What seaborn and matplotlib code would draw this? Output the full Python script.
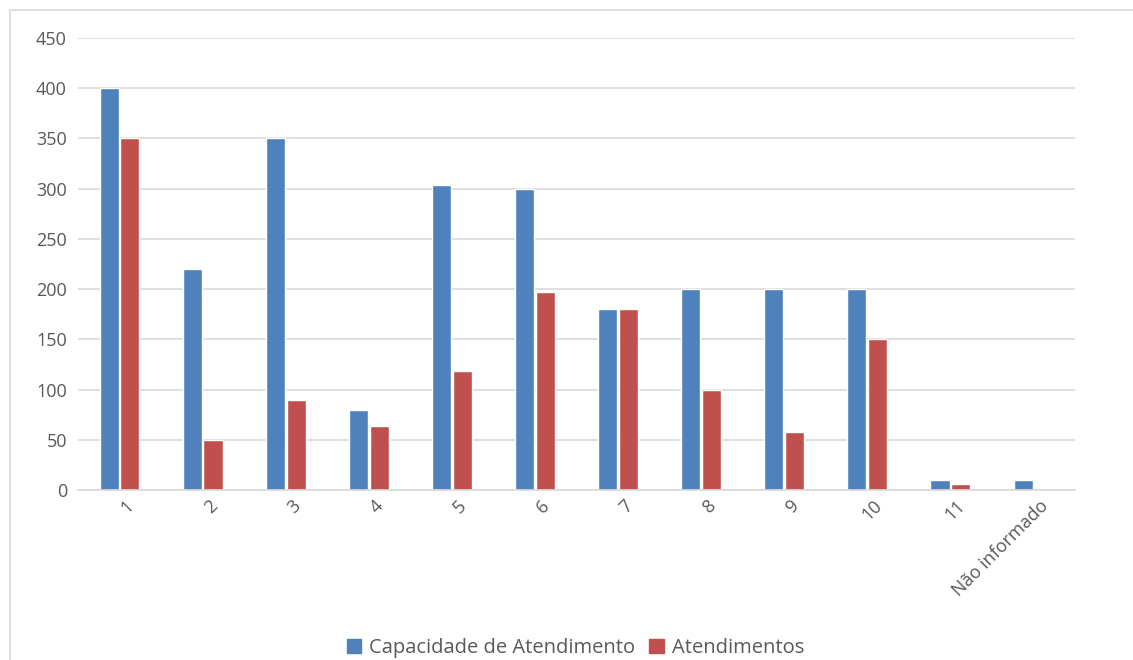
import matplotlib
matplotlib.use("Agg")
import matplotlib.pyplot as plt
import seaborn as sns
import pandas as pd
from matplotlib.lines import Line2D
from matplotlib.transforms import ScaledTranslation

categories = ["1", "2", "3", "4", "5", "6", "7", "8", "9", "10", "11", "Não informado"]
capacidade = [400, 220, 350, 80, 304, 300, 180, 200, 200, 200, 10, 10]
atendimentos = [350, 50, 90, 64, 118, 197, 180, 100, 58, 150, 6, 0]
series_names = ["Capacidade de Atendimento", "Atendimentos"]
colors = ["#4F81BD", "#C0504D"]

df = pd.DataFrame({
    "cat": categories * 2,
    "val": capacidade + atendimentos,
    "serie": [series_names[0]] * len(categories) + [series_names[1]] * len(categories),
})

sns.set_style("white")
plt.rcParams['font.family'] = ['Open Sans', 'DejaVu Sans']

fig = plt.figure(figsize=(11.33, 6.6), dpi=100)
ax = fig.add_axes([78/1133, 1 - 490/660, (1075 - 78)/1133, (490 - 38)/660])

sns.barplot(data=df, x="cat", y="val", hue="serie", palette=colors,
            width=0.5, gap=0.08, ax=ax, legend=False, saturation=1)

ax.set_ylim(0, 450)
ax.set_yticks(range(0, 451, 50))
ax.set_xlabel("")
ax.set_ylabel("")
ax.grid(axis="y", color="#D9D9D9", linewidth=1.2)
ax.set_axisbelow(True)
for s in ["top", "right", "left"]:
    ax.spines[s].set_visible(False)
ax.spines["bottom"].set_color("#D9D9D9")
ax.spines["bottom"].set_linewidth(1.2)
ax.tick_params(axis="both", length=0, colors="#595959", labelsize=13)
ax.tick_params(axis="y", pad=8)
ax.tick_params(axis="x", pad=5)
offset = ScaledTranslation(4/72, 0, fig.dpi_scale_trans)
for lbl in ax.get_xticklabels():
    lbl.set_rotation(45)
    lbl.set_ha("right")
    lbl.set_va("top")
    lbl.set_rotation_mode("anchor")
    lbl.set_transform(lbl.get_transform() + offset)
ax.set_xlim(-0.5, len(categories) - 0.5)

# outer chart frame
fig.add_artist(Line2D([10/1133, 10/1133], [0, 1 - 10/660], color="#D9D9D9", lw=1.2))
fig.add_artist(Line2D([10/1133, 1], [1 - 10/660, 1 - 10/660], color="#D9D9D9", lw=1.2))

handles = [plt.Rectangle((0, 0), 1, 1, color=c) for c in colors]
fig.legend(handles, series_names, loc="lower center", bbox_to_anchor=(0.508, -0.024),
           ncol=2, frameon=False, handlelength=0.7, handleheight=0.7,
           handletextpad=0.4, columnspacing=0.7, fontsize=14.5, labelcolor="#595959")

fig.savefig("out.png", dpi=100)
